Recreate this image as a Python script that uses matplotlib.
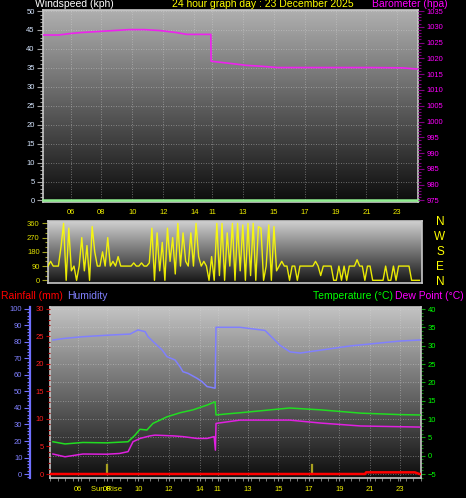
import numpy as np
import matplotlib
matplotlib.use('Agg')
import matplotlib.pyplot as plt
from matplotlib.ticker import MultipleLocator, FixedLocator
from matplotlib.colors import LinearSegmentedColormap

plt.rcParams['font.family'] = ['Liberation Sans', 'DejaVu Sans']

# ---------------- data ----------------
tick_pos = [1.8, 3.7, 5.72, 7.7, 9.68, 10.84, 12.8, 14.78, 16.75, 18.72, 20.7, 22.65]
tick_labels = ['06', '08', '10', '12', '14', '11', '13', '15', '17', '19', '21', '23']

wind_t = [0, 24]
wind_speed = [0, 0]

press_t = [0, 1.0, 1.8, 2.5, 3.5, 4.5, 5.5, 6.5, 7.5, 8.5, 9.2, 10.74, 10.76,
           12, 13, 14, 15, 18, 21, 23, 24]
press_v = [1027.4, 1027.4, 1027.9, 1028.2, 1028.5, 1028.8, 1029.1, 1029.1, 1028.8,
           1028.2, 1027.6, 1027.6, 1019.1, 1018.4, 1017.8, 1017.5, 1017.1, 1017.1,
           1017.1, 1017.0, 1016.6]

wdir = [90, 120, 90, 90, 90, 210, 360, 0, 330, 60, 90, 0, 90, 270, 60, 220, 0, 340,
        180, 90, 90, 180, 90, 270, 90, 120, 90, 150, 90, 90, 90, 90, 90, 110, 90, 90,
        110, 90, 90, 110, 330, 0, 300, 60, 240, 0, 330, 120, 270, 40, 360, 90, 300, 120,
        90, 300, 90, 360, 150, 90, 120, 90, 0, 150, 0, 360, 30, 360, 0, 300, 90, 360,
        0, 360, 60, 350, 0, 360, 30, 360, 0, 340, 330, 0, 90, 350, 0, 340, 60, 90,
        120, 90, 90, 0, 90, 90, 0, 90, 90, 90, 90, 90, 90, 120, 90, 30, 90, 90,
        90, 90, 0, 0, 90, 0, 90, 0, 90, 90, 90, 130, 90, 90, 0, 90, 90, 0,
        0, 0, 0, 0, 90, 0, 0, 90, 0, 90, 90, 90, 90, 90, 0, 0, 0, 0]
wdir_minutes = np.arange(len(wdir)) * 10

hum_t = [0.19, 0.97, 2.13, 3.88, 5.18, 5.69, 6.15, 6.34, 6.79, 7.25, 7.57, 8.09, 8.41,
         8.6, 8.93, 9.51, 9.83, 10.16, 10.68, 10.74, 12.29, 13.91, 14.88, 15.53, 16.18,
         17.47, 19.41, 21.35, 22.65, 23.94]
hum_v = [81.2, 82.2, 83.2, 84.2, 84.8, 87.3, 86.3, 83.2, 79.2, 75.2, 71.1, 69.1, 65,
         62, 61, 58, 56, 53, 52, 88.9, 88.9, 87, 78, 74, 73.3, 75, 77.6, 79.4, 80.6, 81.2]

temp_t = [0.19, 0.97, 2.13, 3.68, 5.05, 5.5, 5.82, 6.27, 6.66, 7.57, 8.41, 9.25, 10.16,
          10.68, 10.74, 11.45, 12.29, 15.5, 17.5, 20.1, 22.65, 23.94]
temp_v = [3.8, 3.2, 3.6, 3.5, 3.8, 5.6, 7.2, 7.0, 8.8, 10.6, 11.7, 12.5, 13.8, 14.7,
          11.1, 11.4, 11.7, 13.0, 12.5, 11.6, 11.2, 11.1]

dew_t = [0.19, 0.97, 2.13, 3.68, 4.5, 5.05, 5.37, 5.82, 6.47, 6.79, 7.96, 8.6, 9.51,
         10.16, 10.62, 10.7, 10.74, 12.29, 15.5, 17.5, 20.1, 23.94]
dew_v = [0.45, -0.3, 0.45, 0.4, 0.6, 1.1, 3.8, 4.7, 5.4, 5.6, 5.4, 5.2, 4.7, 4.7, 5.2,
         1.5, 8.8, 9.7, 9.7, 8.9, 8.1, 7.8]

rain_t = [0.0, 20.38, 20.45, 23.6, 23.9, 24.0]
rain_v = [0.0, 0.0, 0.3, 0.3, 0.0, 0.0]

sun_events = [3.67, 16.93]

# ---------------- layout helpers ----------------
W, H = 466, 498
fig = plt.figure(figsize=(W / 100, H / 100), dpi=100, facecolor='black')


def box(x0, y0, x1, y1):
    return [x0 / W, 1 - y1 / H, (x1 - x0) / W, (y1 - y0) / H]


def gradient(ax, top, bottom):
    g = np.linspace(0, 1, 256).reshape(-1, 1)
    cmap = LinearSegmentedColormap.from_list('g', [top, bottom])
    ax.imshow(g, aspect='auto', cmap=cmap, extent=[0, 1, 0, 1],
              transform=ax.transAxes, zorder=0, interpolation='bilinear')


def frame(ax):
    for s in ax.spines.values():
        s.set_color('#c8c8c8')
        s.set_linewidth(1.2)


TICK_FS = 5.5
YEL = '#f0f000'
GRID = dict(color='#d8d8d8', ls=(0, (1, 2)), lw=0.6, alpha=0.55)

# ---------------- top panel: wind speed / barometer ----------------
ax1 = fig.add_axes(box(43, 10, 418, 202))
ax1.set_facecolor('black')
gradient(ax1, '#b0b0b0', '#0c0c0c')
ax1.set_xlim(0, 24)
ax1.set_ylim(-0.4, 50.27)
ax1.plot(wind_t, wind_speed, color='#90ee90', lw=1.8, zorder=3, clip_on=False)
ax1.grid(True, **GRID)
frame(ax1)

axp = ax1.twinx()
axp.set_ylim(974.52, 1035.32)
axp.plot(press_t, press_v, color='#ee22ee', lw=1.2, zorder=4)
for s in axp.spines.values():
    s.set_visible(False)

ax1.yaxis.tick_left()
ax1.yaxis.set_major_locator(MultipleLocator(5))
ax1.yaxis.set_minor_locator(MultipleLocator(1))
ax1.tick_params(axis='y', which='major', colors='#a0a0a0', labelcolor='#d6e6ff',
                labelsize=TICK_FS, length=4, width=0.8, pad=2)
ax1.tick_params(axis='y', which='minor', colors='#a0a0a0', length=2, width=0.8)
ax1.xaxis.set_major_locator(FixedLocator(tick_pos))
ax1.set_xticklabels(tick_labels)
ax1.tick_params(axis='x', colors='#a0a0a0', labelcolor=YEL, labelsize=TICK_FS,
                length=0, pad=5)

axp.yaxis.tick_right()
axp.yaxis.set_major_locator(MultipleLocator(5))
axp.yaxis.set_minor_locator(MultipleLocator(1))
axp.tick_params(axis='y', which='major', colors='#800080', labelcolor='#ff00ff',
                labelsize=TICK_FS, length=4, width=0.8, pad=2)
axp.tick_params(axis='y', which='minor', colors='#800080', length=2, width=0.8)

fig.text(35 / W, 1 + 1 / H, 'Windspeed (kph)', color='white', fontsize=7.5,
         ha='left', va='top')
fig.text(172 / W, 1 + 1 / H, '24 hour graph day : 23 December 2025', color='#ffff00',
         fontsize=7.5, ha='left', va='top')
fig.text(372 / W, 1 + 1 / H, 'Barometer (hpa)', color='#ff00ff', fontsize=7.5,
         ha='left', va='top')

# ---------------- middle panel: wind direction ----------------
ax2 = fig.add_axes(box(48, 221, 422, 283))
ax2.set_facecolor('black')
gradient(ax2, '#d0d0d0', '#141414')
ax2.set_xlim(0, 24)
ax2.set_ylim(-17, 375)
ax2.plot(wdir_minutes / 60.0, wdir, color='#ffff00', lw=1.0, zorder=3, alpha=0.9)
ax2.yaxis.set_major_locator(MultipleLocator(90))
ax2.yaxis.set_minor_locator(MultipleLocator(30))
ax2.tick_params(axis='y', which='major', colors='#a0a020', labelcolor='#e0e000',
                labelsize=TICK_FS, length=4, width=0.8, pad=2)
ax2.tick_params(axis='y', which='minor', colors='#a0a020', length=2, width=0.8)
ax2.set_xticks([])
frame(ax2)
for i, c in enumerate(['N', 'W', 'S', 'E', 'N']):
    fig.text(440 / W, 1 - (222 + i * 15) / H, c, color='#ffff00', fontsize=8.5,
             ha='center', va='center')

# ---------------- bottom panel ----------------
ax3 = fig.add_axes(box(50, 307, 421, 478))
ax3.set_facecolor('black')
gradient(ax3, '#c4c4c4', '#0e0e0e')
ax3.set_xlim(0, 24)
ax3.set_ylim(-6.09, 40.55)
ax3.plot(temp_t, temp_v, color='#22dd22', lw=1.1, zorder=4)
ax3.plot(dew_t, dew_v, color='#e020e0', lw=1.1, zorder=4)
for t in sun_events:
    ax3.plot([t, t], [-5, -2.5], color='#a8a020', lw=1.6, zorder=3)
ax3.grid(True, **GRID)
frame(ax3)
ax3.text(sun_events[0], -0.045, 'Sun Rise', transform=ax3.get_xaxis_transform(),
         color=YEL, fontsize=TICK_FS, ha='center', va='top')

axh = ax3.twinx()
axh.set_ylim(-2.42, 101.2)
axh.plot(hum_t, hum_v, color='#8080ff', lw=1.1, zorder=4)

axr = ax3.twinx()
axr.set_ylim(-0.727, 30.36)
axr.plot(rain_t, rain_v, color='#ff0000', lw=1.8, zorder=5)

# temperature axis on the right (after twins, which reset tick sides)
ax3.yaxis.tick_right()
ax3.yaxis.set_major_locator(MultipleLocator(5))
ax3.yaxis.set_minor_locator(MultipleLocator(1))
ax3.tick_params(axis='y', which='major', colors='#10a010', labelcolor='#00ff00',
                labelsize=TICK_FS, length=3, width=0.8, pad=2)
ax3.tick_params(axis='y', which='minor', colors='#108010', length=1.5, width=0.8)
ax3.xaxis.set_major_locator(FixedLocator(tick_pos))
ax3.set_xticklabels(tick_labels)
ax3.xaxis.set_minor_locator(MultipleLocator(0.5))
ax3.tick_params(axis='x', which='major', colors='#909090', labelcolor=YEL,
                labelsize=TICK_FS, length=2, pad=4)
ax3.tick_params(axis='x', which='minor', colors='#909090', length=2)

axh.yaxis.tick_left()
axh.spines['left'].set_visible(True)
axh.spines['left'].set_position(('outward', 14.4))
axh.spines['left'].set_color('#7070ff')
axh.spines['left'].set_linewidth(1.6)
for k in ('right', 'top', 'bottom'):
    axh.spines[k].set_visible(False)
axh.yaxis.set_major_locator(MultipleLocator(10))
axh.yaxis.set_minor_locator(MultipleLocator(2))
axh.tick_params(axis='y', which='major', colors='#7070ff', labelcolor='#8080ff',
                labelsize=TICK_FS, length=4, width=0.8, pad=1.5)
axh.tick_params(axis='y', which='minor', colors='#7070ff', length=2, width=0.8)

axr.yaxis.tick_left()
axr.spines['left'].set_visible(False)
for k in ('right', 'top', 'bottom'):
    axr.spines[k].set_visible(False)
axr.yaxis.set_major_locator(MultipleLocator(5))
axr.yaxis.set_minor_locator(MultipleLocator(1))
axr.tick_params(axis='y', which='major', colors='#c00000', labelcolor='#ff2020',
                labelsize=TICK_FS, length=3, width=0.8, pad=1.5)
axr.tick_params(axis='y', which='minor', colors='#a00000', length=1.5, width=0.8)

fig.text(1 / W, 1 - 296 / H, 'Rainfall (mm)', color='#ff0000', fontsize=7.5,
         ha='left', va='center')
fig.text(67 / W, 1 - 296 / H, 'Humidity', color='#8080ff', fontsize=7.5,
         ha='left', va='center')
fig.text(313 / W, 1 - 296 / H, 'Temperature (\u00b0C)', color='#00ff00', fontsize=7.5,
         ha='left', va='center')
fig.text(395 / W, 1 - 296 / H, 'Dew Point (\u00b0C)', color='#ff00ff', fontsize=7.5,
         ha='left', va='center')

fig.savefig('out.png', dpi=100, facecolor='black')
